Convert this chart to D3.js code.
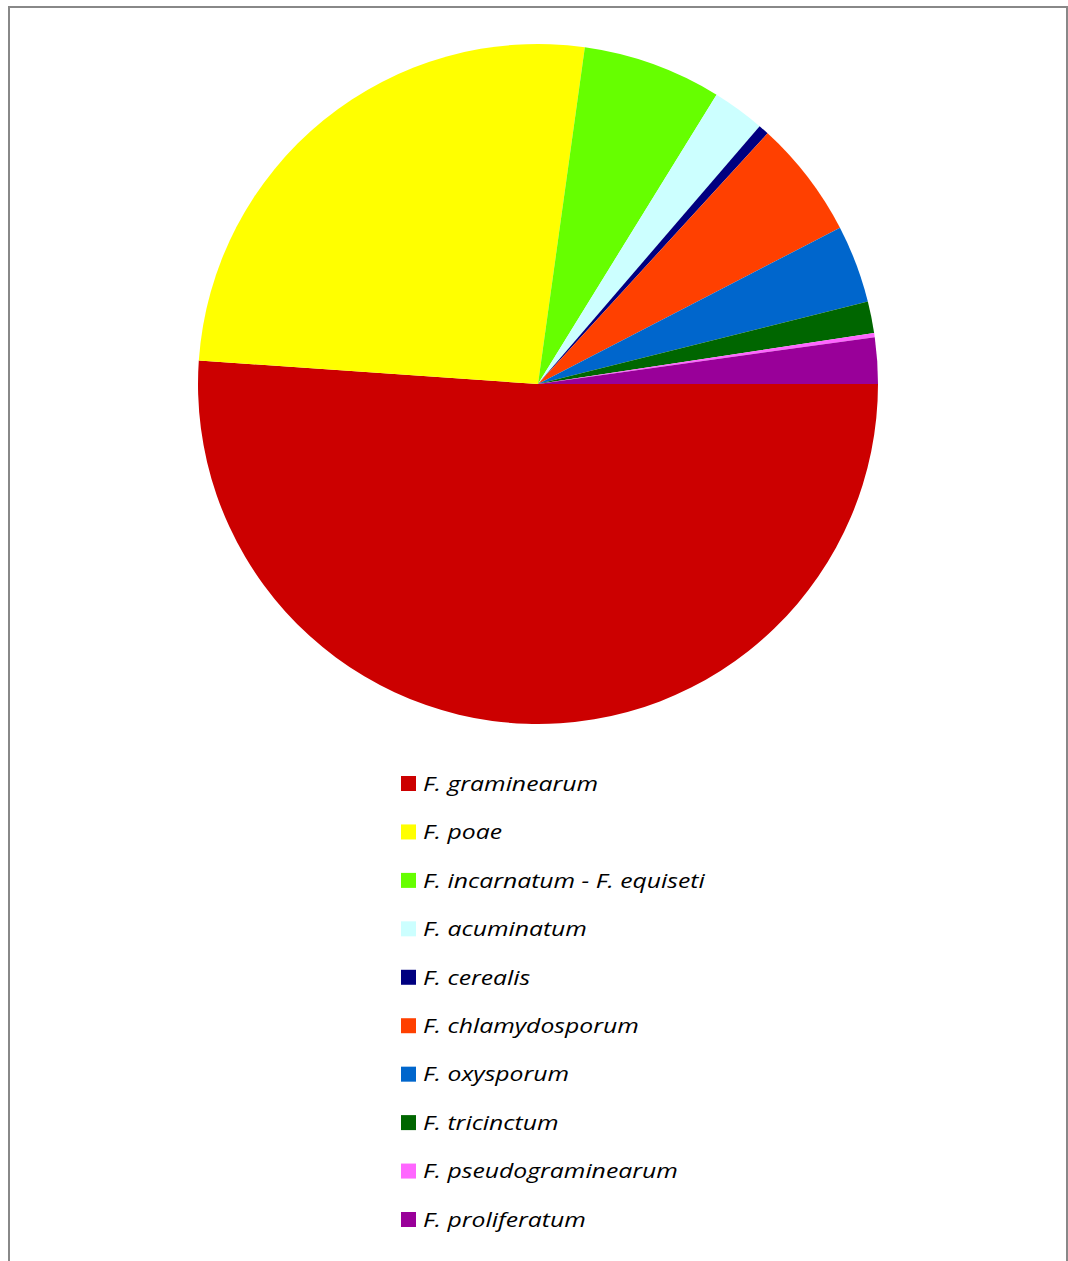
<!DOCTYPE html>
<html>
<head>
<meta charset="utf-8">
<script src="https://cdn.jsdelivr.net/npm/d3@7"></script>
<style>
  html, body { margin: 0; padding: 0; background: #fff; }
  svg { display: block; }
</style>
</head>
<body>
<svg id="chart" width="1068" height="1261"></svg>
<script>
// Species share of Fusarium isolates (%)
const species = [
  "F. graminearum",
  "F. poae",
  "F. incarnatum - F. equiseti",
  "F. acuminatum",
  "F. cerealis",
  "F. chlamydosporum",
  "F. oxysporum",
  "F. tricinctum",
  "F. pseudograminearum",
  "F. proliferatum"
];
const shares = [51.1, 26.1, 6.6, 2.5, 0.5, 5.6, 3.7, 1.5, 0.2, 2.2];
const colors = [
  "#CC0000", "#FFFF00", "#66FF00", "#CCFFFF", "#000080",
  "#FF4000", "#0066CC", "#006600", "#FF66FF", "#990099"
];

const data = species.map((name, i) => ({ name, value: shares[i], color: colors[i] }));

const svg = d3.select("#chart");

// chart frame
svg.append("rect")
  .attr("x", 9).attr("y", 7)
  .attr("width", 1058).attr("height", 1270)
  .attr("fill", "none")
  .attr("stroke", "#888888")
  .attr("stroke-width", 2);

const cx = 538, cy = 384, radius = 340;

// slices run clockwise starting at 3 o'clock
const pie = d3.pie()
  .sort(null)
  .value(d => d.value)
  .startAngle(Math.PI / 2)
  .endAngle(Math.PI / 2 + 2 * Math.PI);

const arc = d3.arc().innerRadius(0).outerRadius(radius);

svg.append("g")
  .attr("transform", `translate(${cx},${cy})`)
  .selectAll("path")
  .data(pie(data))
  .join("path")
  .attr("d", arc)
  .attr("fill", d => d.data.color);

// legend
const legendY = d3.scaleLinear().domain([0, species.length - 1]).range([783.5, 1219.5]);

const legend = svg.append("g")
  .selectAll("g")
  .data(data)
  .join("g")
  .attr("transform", (d, i) => `translate(401,${legendY(i)})`);

legend.append("rect")
  .attr("x", 0).attr("y", -7.5)
  .attr("width", 15).attr("height", 15)
  .attr("fill", d => d.color);

// labels use a slightly widened italic face
legend.append("text")
  .attr("transform", "translate(22,7.3) scale(1.27,1)")
  .attr("font-family", "'Open Sans', sans-serif")
  .attr("font-style", "italic")
  .attr("font-size", 19.5)
  .attr("fill", "#000")
  .text(d => d.name);
</script>
</body>
</html>
